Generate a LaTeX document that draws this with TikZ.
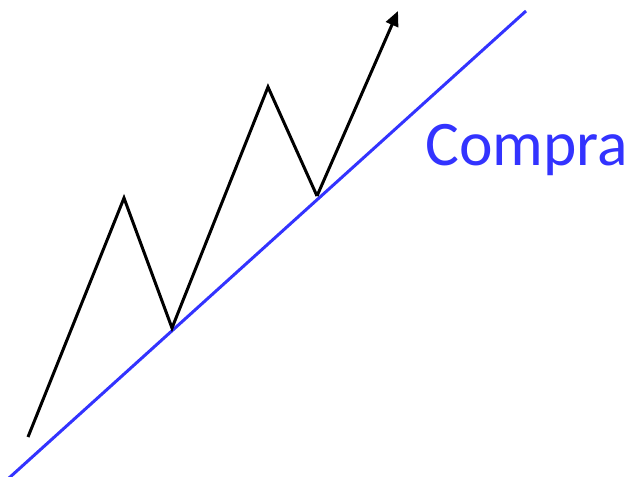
\documentclass[tikz,border=0pt]{standalone}
\usepackage{fontspec}
\setmainfont{Carlito}
\usetikzlibrary{arrows.meta}
\definecolor{trendblue}{RGB}{51, 51, 255}

\begin{document}
\begin{tikzpicture}[x=1pt, y=-1pt,
  price/.style={line width=3pt, black, line join=miter},
  trend/.style={line width=3pt, trendblue}]
\useasboundingbox (0,0) rectangle (631,476);
% zigzag points
\coordinate (p0) at (28,437);
\coordinate (p1) at (124,198);
\coordinate (p2) at (172,328);
\coordinate (p3) at (268,87);
\coordinate (p4) at (317,196);
\coordinate (tip) at (398,11);
% trend line ends
\coordinate (t0) at (9,478);
\coordinate (t1) at (526,11);
\draw[trend] (t0) -- (t1);
\draw[price] (p0) -- (p1) -- (p2) -- (p3) -- (p4);
\draw[price, -{Triangle[length=15pt, width=13pt]}] (p4) -- (tip);
\node[anchor=base west, inner sep=0pt, font=\fontsize{63.5}{64}\selectfont, text=trendblue] (buy) at (425,165) {Compra};
\end{tikzpicture}
\end{document}
